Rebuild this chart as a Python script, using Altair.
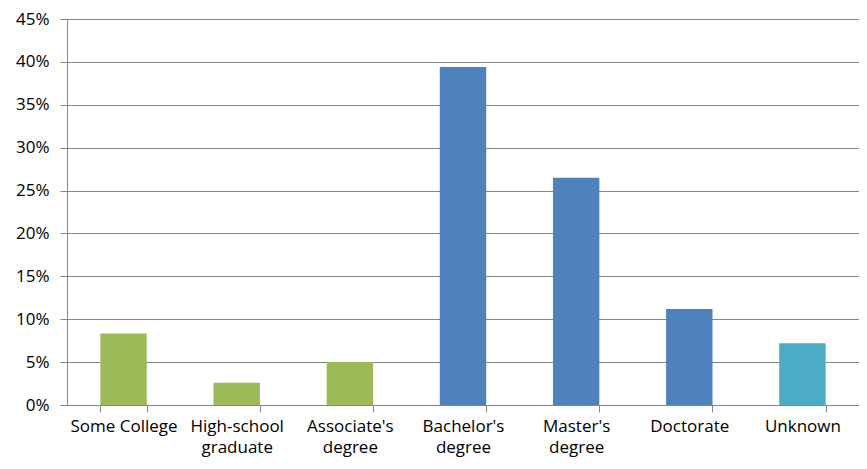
import altair as alt
import pandas as pd

categories = ["Some College", "High-school graduate", "Associate's degree",
              "Bachelor's degree", "Master's degree", "Doctorate", "Unknown"]
values = [0.0835, 0.026, 0.050, 0.394, 0.265, 0.112, 0.072]
groups = ["nondeg", "nondeg", "nondeg", "deg", "deg", "deg", "unk"]
group_colors = ["#9BBB59", "#4F81BD", "#4BACC6"]
group_names = ["nondeg", "deg", "unk"]

df = pd.DataFrame({"cat": categories, "val": values, "grp": groups})

FONT = "Open Sans"

chart = alt.Chart(df).mark_bar().encode(
    x=alt.X("cat:N", sort=categories, title=None,
            scale=alt.Scale(paddingInner=0.59, paddingOuter=0.295),
            axis=alt.Axis(labelAngle=0, tickBand="extent", tickSize=7,
                          tickColor="#868686", domainColor="#868686",
                          labelFont=FONT, labelFontSize=17, labelColor="#000000",
                          labelPadding=6, labelLineHeight=21,
                          labelExpr="datum.label == 'Some College' ? datum.label : split(datum.label, ' ')")),
    y=alt.Y("val:Q", title=None,
            scale=alt.Scale(domain=[0, 0.45], nice=False),
            axis=alt.Axis(values=[i * 0.05 for i in range(10)], format=".0%",
                          tickSize=7, tickColor="#868686", domainColor="#868686",
                          gridColor="#868686", labelFont=FONT, labelFontSize=17,
                          labelColor="#000000", labelPadding=11)),
    color=alt.Color("grp:N", scale=alt.Scale(domain=group_names, range=group_colors), legend=None),
).properties(
    width=792, height=386,
    autosize=alt.AutoSizeParams(type="none"),
    padding={"left": 59, "top": 11, "right": 0, "bottom": 56},
).configure_view(stroke=None).configure_axis(domainWidth=1, gridWidth=1, tickWidth=1)

chart.save("out.html", embed_options={"renderer": "svg", "actions": False})
